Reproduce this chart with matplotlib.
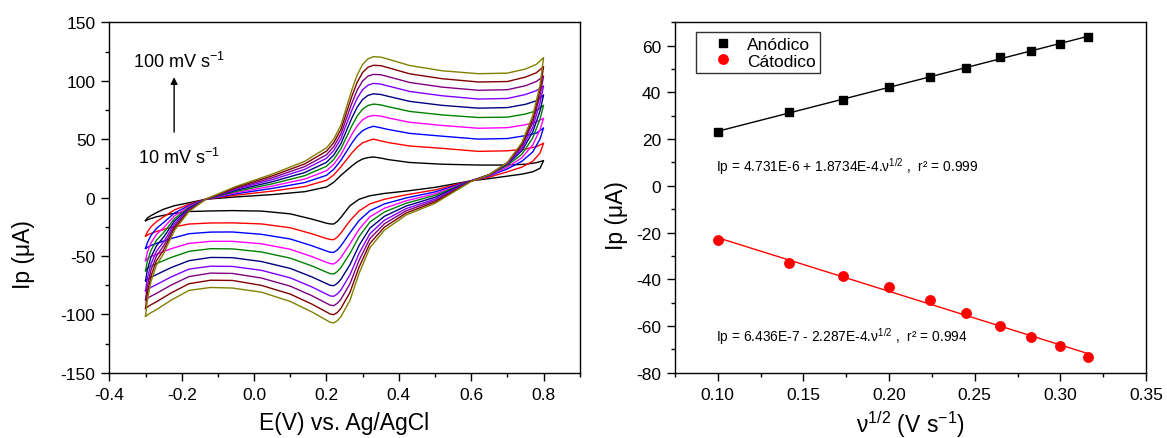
import numpy as np
import matplotlib as mpl
mpl.use('Agg')  # no display
import matplotlib.pyplot as plt
from matplotlib.ticker import MultipleLocator, FormatStrFormatter

plt.rcParams['font.family'] = ['Liberation Sans', 'DejaVu Sans']
plt.rcParams['mathtext.fontset'] = 'custom'
plt.rcParams['mathtext.rm'] = 'Liberation Sans'
plt.rcParams['mathtext.it'] = 'Liberation Sans:italic'
plt.rcParams['axes.unicode_minus'] = False

# ---- Cyclic voltammograms (10 -> 100 mV/s) ----
# forward (anodic) sweep, -0.3 -> 0.8 V
e_fwd = [-0.300, -0.295, -0.285, -0.270, -0.250, -0.220, -0.180, -0.134, -0.050, 0.050,
         0.140, 0.200, 0.220, 0.240, 0.270, 0.285, 0.300, 0.315, 0.330, 0.350,
         0.370, 0.430, 0.520, 0.620, 0.700, 0.750, 0.780, 0.800]
# reverse (cathodic) sweep, 0.8 -> -0.3 V
e_rev = [0.80, 0.79, 0.77, 0.74, 0.70, 0.65, 0.60, 0.50, 0.42, 0.36,
         0.32, 0.29, 0.265, 0.24, 0.23, 0.22, 0.21, 0.20, 0.16, 0.10,
         0.02, -0.06, -0.12, -0.18, -0.23, -0.27, -0.29, -0.30]

ip_fwd = [
    [-19.8, -17.5, -15.5, -13.0, -10.0, -7.0, -4.5, -1.5, 0.5, 2.5, 5.0, 9.0, 13.0, 19.0, 27.0, 30.5, 33.0, 34.2, 34.7, 33.8, 32.5, 30.0, 28.5, 27.8, 27.8, 28.5, 29.8, 31.6],
    [-33.0, -29.5, -25.1, -20.7, -16.5, -10.6, -5.8, -1.5, 2.0, 5.5, 9.4, 14.7, 19.3, 26.3, 38.1, 43.2, 46.8, 48.6, 50.0, 48.5, 47.1, 44.1, 42.1, 39.5, 40.0, 41.5, 43.5, 46.5],
    [-43.6, -38.7, -32.5, -26.5, -21.4, -13.3, -6.8, -1.5, 3.2, 7.8, 12.8, 19.0, 24.1, 31.9, 46.5, 52.9, 57.3, 59.6, 61.0, 59.7, 58.3, 54.9, 52.5, 50.0, 50.5, 53.0, 55.1, 59.6],
    [-54.0, -46.8, -38.9, -31.7, -25.8, -15.7, -7.6, -1.5, 4.2, 9.8, 15.8, 22.9, 28.4, 36.8, 54.0, 61.4, 66.6, 69.3, 70.3, 69.7, 68.2, 64.4, 61.7, 59.3, 59.8, 62.3, 64.7, 67.9],
    [-62.7, -54.7, -45.3, -36.7, -30.0, -18.1, -8.5, -1.5, 5.2, 11.7, 18.7, 26.7, 32.5, 41.7, 61.3, 69.8, 75.7, 78.8, 80.0, 79.3, 77.8, 73.7, 70.7, 68.5, 68.8, 71.5, 74.2, 79.0],
    [-71.3, -61.9, -51.1, -41.4, -33.9, -20.2, -9.2, -1.5, 6.2, 13.5, 21.4, 30.1, 36.3, 46.1, 68.0, 77.4, 84.0, 87.5, 88.8, 88.2, 86.7, 82.3, 78.9, 76.5, 77.0, 79.8, 82.8, 87.8],
    [-79.8, -69.2, -56.9, -46.0, -37.9, -22.4, -10.0, -1.5, 7.1, 15.3, 24.1, 33.6, 40.1, 50.5, 74.6, 85.1, 92.4, 96.2, 97.7, 97.1, 95.5, 90.8, 87.1, 84.3, 84.8, 88.2, 91.5, 95.5],
    [-87.5, -75.7, -62.1, -50.1, -41.4, -24.3, -10.7, -1.5, 7.9, 16.9, 26.5, 36.6, 43.5, 54.5, 80.6, 92.0, 99.8, 104.0, 105.4, 105.1, 103.5, 98.5, 94.5, 91.8, 92.3, 95.7, 99.3, 104.0],
    [-95.0, -82.0, -67.2, -54.2, -44.8, -26.2, -11.4, -1.5, 8.7, 18.5, 28.8, 39.7, 46.9, 58.3, 86.5, 98.7, 107.1, 111.6, 113.2, 112.9, 111.2, 105.9, 101.7, 98.9, 99.3, 103.1, 106.8, 112.0],
    [-101.7, -88.0, -72.0, -58.0, -48.0, -28.0, -12.0, -1.4, 9.5, 20.0, 31.0, 42.5, 50.0, 62.0, 92.0, 105.0, 114.0, 118.8, 120.6, 120.2, 118.5, 113.0, 108.5, 106.0, 106.5, 110.0, 114.0, 119.8],
]
ip_rev = [
    [31.6, 25.0, 22.0, 20.0, 18.3, 16.2, 14.3, 8.7, 5.5, 3.5, 1.5, -1.5, -7.0, -17.0, -20.5, -22.7, -22.6, -22.0, -18.5, -14.0, -11.6, -11.2, -11.5, -12.0, -14.0, -16.5, -18.5, -19.8],
    [46.5, 38.0, 31.0, 26.0, 22.0, 17.5, 14.3, 6.5, 2.3, -1.5, -5.5, -11.5, -19.8, -30.4, -33.9, -36.1, -35.9, -35.1, -31.1, -25.9, -22.6, -21.7, -21.8, -22.7, -25.7, -29.1, -31.3, -33.0],
    [59.6, 50.0, 39.0, 31.0, 24.5, 18.5, 14.3, 4.8, -0.4, -5.5, -11.3, -19.7, -30.2, -41.4, -44.9, -47.0, -46.8, -45.8, -41.3, -35.5, -31.5, -29.5, -29.6, -31.0, -35.2, -39.3, -41.7, -43.6],
    [67.9, 58.0, 45.0, 34.0, 26.0, 19.0, 14.3, 3.2, -2.8, -9.2, -16.5, -27.2, -39.7, -51.3, -54.8, -56.9, -56.6, -55.5, -50.6, -44.3, -39.6, -37.5, -37.5, -39.3, -43.9, -48.6, -51.2, -54.0],
    [79.0, 67.0, 51.0, 37.0, 27.5, 19.5, 14.3, 1.8, -4.9, -12.4, -21.0, -33.6, -47.9, -59.9, -63.4, -65.5, -65.1, -63.9, -58.6, -51.9, -46.6, -44.0, -43.8, -46.1, -51.4, -56.6, -59.4, -62.7],
    [87.8, 74.0, 56.0, 40.0, 28.5, 19.5, 14.3, 0.2, -7.3, -16.1, -26.2, -41.1, -57.5, -70.0, -73.5, -75.5, -75.1, -73.7, -68.0, -60.7, -54.8, -51.5, -51.3, -54.1, -60.1, -66.0, -69.0, -71.3],
    [95.5, 81.0, 60.0, 42.0, 29.0, 19.5, 14.2, -1.3, -9.5, -19.5, -31.0, -47.9, -66.2, -79.1, -82.6, -84.6, -84.2, -82.7, -76.6, -68.8, -62.3, -59.0, -58.8, -61.3, -68.1, -74.6, -77.7, -79.8],
    [104.0, 87.0, 64.0, 44.0, 29.5, 19.5, 14.1, -2.6, -11.4, -22.5, -35.2, -53.9, -73.8, -87.1, -90.6, -92.6, -92.1, -90.5, -84.1, -75.9, -68.9, -65.0, -64.7, -67.7, -75.1, -82.1, -85.3, -87.5],
    [112.0, 92.0, 67.0, 45.5, 30.0, 19.5, 14.0, -3.8, -13.3, -25.4, -39.3, -59.7, -81.2, -94.9, -98.4, -100.3, -99.7, -98.0, -91.3, -82.7, -75.2, -71.0, -70.8, -73.8, -81.8, -89.3, -92.7, -95.0],
    [119.8, 96.0, 70.0, 47.0, 30.0, 19.5, 13.8, -5.0, -15.0, -28.0, -43.0, -65.0, -88.0, -102.0, -105.5, -107.4, -106.8, -105.0, -98.0, -89.0, -81.0, -77.5, -77.0, -79.5, -88.0, -96.0, -99.5, -101.7],
]
cv_colors = ['#000000', '#ff0000', '#0000ff', '#ff00ff', '#008000',
             '#000080', '#8000ff', '#800080', '#800000', '#808000']

# ---- Peak currents vs sqrt(scan rate) ----
sqrt_v = [0.1000, 0.1414, 0.1732, 0.2000, 0.2236, 0.2449, 0.2646, 0.2828, 0.3000, 0.3162]
ip_anod = [22.9, 31.8, 36.9, 42.2, 46.6, 50.3, 55.0, 57.9, 60.9, 63.6]
ip_cat = [-23.0, -33.2, -38.7, -43.5, -48.9, -54.6, -59.9, -64.7, -68.6, -73.1]

eq_anod = 'Ip = 4.731E-6 + 1.8734E-4.\u03bd$^{1/2}$ ,  r\u00b2 = 0.999'
eq_cat = 'Ip = 6.436E-7 - 2.287E-4.\u03bd$^{1/2}$ ,  r\u00b2 = 0.994'

TICK_FS = 12.5
LABEL_FS = 16.5


def style_axes(ax):
    for sp in ax.spines.values():
        sp.set_linewidth(1.0)
    ax.tick_params(which='both', direction='out', top=False, right=False,
                   labelsize=TICK_FS, width=1.0, pad=4)
    ax.tick_params(which='major', length=6)
    ax.tick_params(which='minor', length=3)


fig = plt.figure(figsize=(11.67, 4.39), dpi=100)

# Left: CVs
ax1 = fig.add_axes([0.0937, 0.1487, 0.4031, 0.7982])
for f, r, c in zip(ip_fwd, ip_rev, cv_colors):
    ax1.plot(e_fwd + e_rev, f + r, color=c, lw=1.0)
ax1.set_xlim(-0.4, 0.9)
ax1.set_ylim(-150, 150)
ax1.xaxis.set_major_locator(MultipleLocator(0.2))
ax1.xaxis.set_minor_locator(MultipleLocator(0.1))
ax1.xaxis.set_major_formatter(FormatStrFormatter('%.1f'))
ax1.yaxis.set_major_locator(MultipleLocator(50))
ax1.yaxis.set_minor_locator(MultipleLocator(25))
style_axes(ax1)
ax1.set_xlabel('E(V) vs. Ag/AgCl', fontsize=LABEL_FS, labelpad=7)
ax1.set_ylabel('Ip (\u03bcA)', fontsize=LABEL_FS)
ax1.yaxis.set_label_coords(-0.158, 0.339)

ax1.annotate('', xy=(-0.221, 103), xytext=(-0.221, 56),
             arrowprops=dict(arrowstyle='-|>', color='black', lw=1.0,
                             mutation_scale=10, shrinkA=0, shrinkB=0))
ax1.text(-0.334, 117, '100 mV s$^{-1}$', fontsize=13, va='center')
ax1.text(-0.320, 34.4, '10 mV s$^{-1}$', fontsize=13, va='center')

# Right: Ip vs v^1/2 with linear fits
ax2 = fig.add_axes([0.5784, 0.1487, 0.4036, 0.7982])
x = np.array(sqrt_v)
pa = np.polyfit(x, ip_anod, 1)
pc = np.polyfit(x, ip_cat, 1)
ax2.plot(x, np.polyval(pa, x), color='black', lw=1.0)
ax2.plot(x, np.polyval(pc, x), color='red', lw=1.0)
ax2.plot(x, ip_anod, 's', color='black', ms=6.2, label='An\u00f3dico')
ax2.plot(x, ip_cat, 'o', color='red', ms=6.8, label='C\u00e1todico')
ax2.set_xlim(0.075, 0.35)
ax2.set_ylim(-80, 70)
ax2.xaxis.set_major_locator(MultipleLocator(0.05))
ax2.xaxis.set_minor_locator(MultipleLocator(0.025))
ax2.xaxis.set_major_formatter(FormatStrFormatter('%.2f'))
ax2.yaxis.set_major_locator(MultipleLocator(20))
ax2.yaxis.set_minor_locator(MultipleLocator(10))
style_axes(ax2)
ax2.set_xlabel('\u03bd$^{1/2}$ (V s$^{-1}$)', fontsize=LABEL_FS, labelpad=5)
ax2.set_ylabel('Ip (\u03bcA)', fontsize=LABEL_FS)
ax2.yaxis.set_label_coords(-0.0998, 0.452)

ax2.text(0.0987, 8.5, eq_anod, fontsize=9.9, va='center')
ax2.text(0.0990, -64.3, eq_cat, fontsize=9.9, va='center')

leg = ax2.legend(loc='upper left', bbox_to_anchor=(0.045, 0.972), fontsize=TICK_FS,
                 frameon=True, fancybox=False, edgecolor='black', borderaxespad=0,
                 numpoints=1, handlelength=2.6, handletextpad=0.1,
                 borderpad=0.25, labelspacing=0.1)
leg.get_frame().set_linewidth(1.0)

fig.savefig('out.png', dpi=100)
